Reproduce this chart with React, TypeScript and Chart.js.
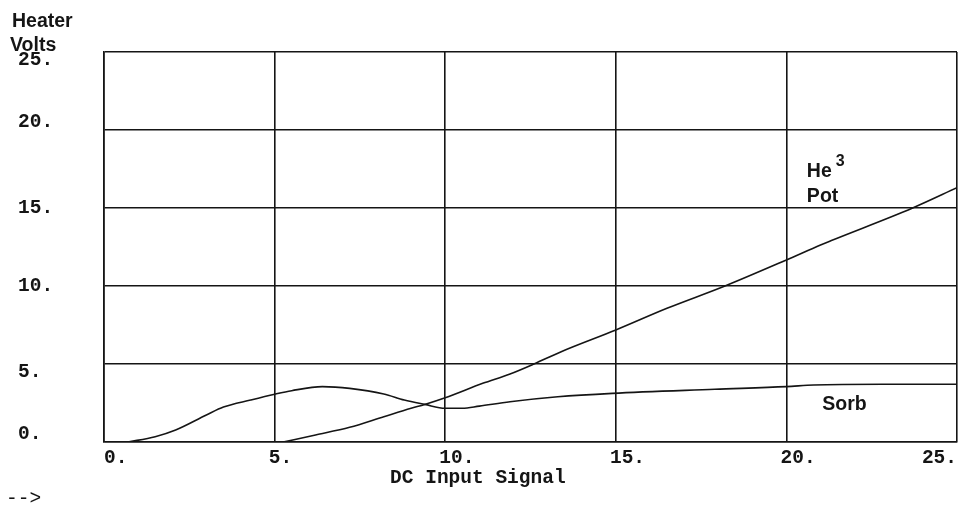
import { useEffect, useRef } from 'react';
import { Chart, registerables } from 'chart.js';

Chart.register(...registerables);

// Sorb heater curve
const sorbX = [0.7, 1.5, 2.1, 3.0, 3.5, 4.3, 5.0, 5.5, 6.4, 7.2, 8.2, 8.8, 9.4, 10.0, 10.5, 11.0, 11.9, 13.3, 14.9, 17.9, 20.0, 20.8, 22.8, 25.0];
const sorbY = [0, 0.34, 0.77, 1.73, 2.24, 2.69, 3.06, 3.29, 3.55, 3.44, 3.08, 2.69, 2.41, 2.16, 2.16, 2.3, 2.58, 2.9, 3.12, 3.38, 3.55, 3.65, 3.7, 3.7];

// He3 pot heater curve
const potX = [5.25, 6.2, 7.2, 8.2, 9.0, 9.4, 10.0, 11.1, 11.9, 12.6, 13.4, 15.0, 16.5, 18.2, 20.0, 21.0, 21.3, 23.7, 25.0];
const potY = [0, 0.45, 0.94, 1.62, 2.16, 2.41, 2.84, 3.76, 4.36, 5.0, 5.79, 7.18, 8.57, 10.0, 11.67, 12.63, 12.9, 15.0, 16.3];

const xTicks = [0, 5, 10, 15, 20, 25];
const yTicks = [0, 5, 10, 15, 20, 25];
// label placement relative to its grid line on the y axis: -1 above, 0 centred, 1 below
const yTickShift = [-1, 1, 0, 0, -1, 1];
const xTitle = 'DC Input Signal';
const yTitle = ['Heater', 'Volts'];
const sorbLabel = 'Sorb';
const potLabel = ['He', '3', 'Pot'];
const arrowText = '-->';

const INK = '#151515';
const MONO = '"Liberation Mono", "Courier New", monospace';
const SANS = '"Liberation Sans", Arial, sans-serif';
const MONO_SIZE = 19.5;

const notesPlugin = {
  id: 'notes',
  afterDraw(chart: any) {
    const { ctx, scales } = chart;
    const x = scales.x;
    const y = scales.y;
    ctx.save();
    ctx.fillStyle = INK;
    ctx.textAlign = 'left';
    ctx.textBaseline = 'alphabetic';
    ctx.font = `bold 19.5px ${SANS}`;
    ctx.fillText(yTitle[0], 12, 27);
    ctx.fillText(yTitle[1], 10, 51);

    // He3 Pot label
    const hx = x.getPixelForValue(20.6);
    const hy = y.getPixelForValue(17.0);
    ctx.font = `bold 19.5px ${SANS}`;
    ctx.fillText(potLabel[0], hx, hy);
    const w = ctx.measureText(potLabel[0]).width;
    ctx.font = `bold 16px ${SANS}`;
    ctx.fillText(potLabel[1], hx + w + 4, hy - 11);
    ctx.font = `bold 19.5px ${SANS}`;
    ctx.fillText(potLabel[2], hx, y.getPixelForValue(15.4));

    // Sorb label
    ctx.fillText(sorbLabel, x.getPixelForValue(21.05), y.getPixelForValue(2.05));

    // arrow prompt
    ctx.font = `${MONO_SIZE}px ${MONO}`;
    ctx.fillText(arrowText, 6, 504);
    ctx.restore();
  },
};

export default function App() {
  const ref = useRef<HTMLCanvasElement | null>(null);

  useEffect(() => {
    if (!ref.current) return;
    const monoFont = { family: MONO, size: MONO_SIZE, weight: 'bold' as const };
    const chart = new Chart(ref.current, {
      type: 'line',
      data: {
        datasets: [
          {
            label: sorbLabel,
            data: sorbX.map((v, i) => ({ x: v, y: sorbY[i] })),
            borderColor: INK,
            borderWidth: 1.6,
            pointRadius: 0,
            cubicInterpolationMode: 'monotone',
            fill: false,
          },
          {
            label: 'He3 Pot',
            data: potX.map((v, i) => ({ x: v, y: potY[i] })),
            borderColor: INK,
            borderWidth: 1.6,
            pointRadius: 0,
            cubicInterpolationMode: 'monotone',
            fill: false,
          },
        ],
      },
      options: {
        animation: false,
        responsive: false,
        layout: { padding: { left: 18, top: 52, right: 7, bottom: 0 } },
        plugins: {
          legend: { display: false },
          tooltip: { enabled: false },
        },
        scales: {
          x: {
            type: 'linear',
            min: 0,
            max: 25,
            afterBuildTicks: (s: any) => {
              s.ticks = xTicks.map((v) => ({ value: v }));
            },
            afterFit: (s: any) => {
              s.height = 64;
            },
            grid: { color: INK, lineWidth: 1.6, drawTicks: false },
            border: { color: INK, width: 1.6 },
            ticks: {
              align: 'inner',
              padding: 4,
              color: INK,
              font: monoFont,
              maxRotation: 0,
              autoSkip: false,
              callback: (v: any, i: number, arr: any[]) => {
                const s = `${v}.`;
                if (i === 0 || i === arr.length - 1) return s;
                return ' '.repeat(s.length - 1) + s;
              },
            },
            title: {
              display: true,
              text: xTitle + ' '.repeat(9),
              color: INK,
              font: monoFont,
              padding: { top: 0, bottom: 16 },
            },
          },
          y: {
            type: 'linear',
            min: 0,
            max: 25,
            afterBuildTicks: (s: any) => {
              s.ticks = yTicks.map((v) => ({ value: v }));
            },
            afterFit: (s: any) => {
              s.width = 86;
            },
            grid: { color: INK, lineWidth: 1.6, drawTicks: false },
            border: { color: INK, width: 1.6 },
            ticks: {
              crossAlign: 'far',
              padding: 4,
              color: INK,
              font: { ...monoFont, lineHeight: 0.8 },
              callback: (v: any, i: number) => {
                const s = `${v}.`;
                const k = yTickShift[i] ?? 0;
                if (k < 0) return [s, ''];
                if (k > 0) return ['', s];
                return s;
              },
            },
          },
        },
      },
      plugins: [notesPlugin],
    } as any);
    return () => chart.destroy();
  }, []);

  return (
    <div style={{ position: 'fixed', left: 0, top: 0, width: 964, height: 506, background: '#fff' }}>
      <canvas ref={ref} width={964} height={506} style={{ display: 'block' }} />
    </div>
  );
}
